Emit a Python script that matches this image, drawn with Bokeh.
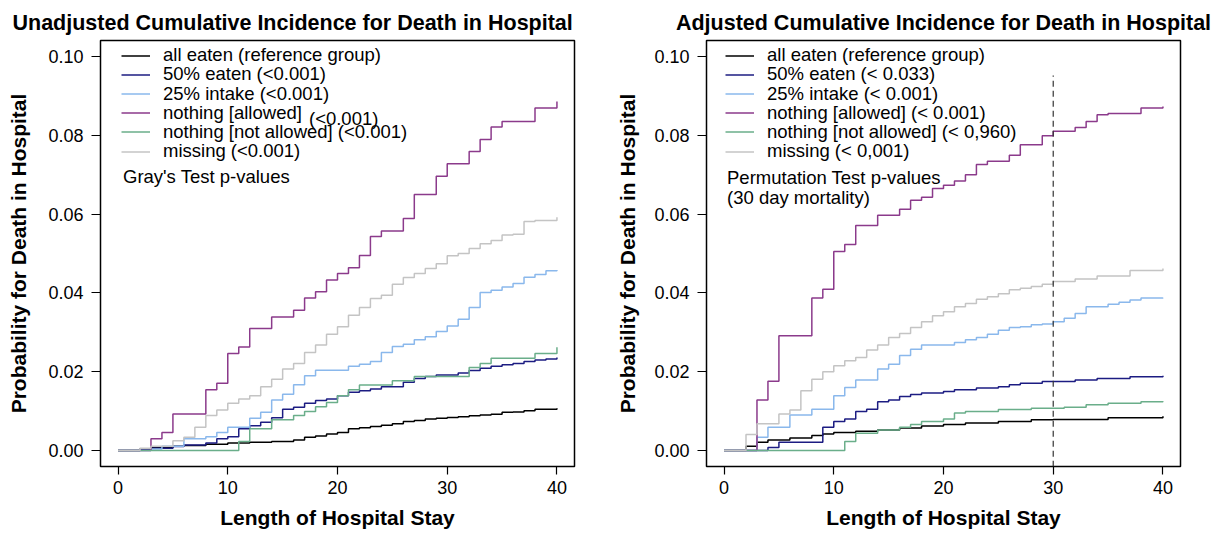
from bokeh.plotting import figure
from bokeh.layouts import row
from bokeh.models import Range1d, FixedTicker, PrintfTickFormatter, Legend, LegendItem, Label
from bokeh.embed import file_html
from bokeh.resources import INLINE

# ---------------- data ----------------
group_names = ["all eaten", "50% eaten", "25% intake", "nothing [allowed]",
               "nothing [not allowed]", "missing"]
group_colors = ["#000000", "#1c1c82", "#8ab8ec", "#8b3a8b", "#6aae8a", "#c4c4c4"]

unadj_labels = ["all eaten (reference group)", "50% eaten (<0.001)", "25% intake (<0.001)",
                "nothing [allowed]", "nothing [not allowed] (<0.001)", "missing (<0.001)"]
unadj_extra = "(<0.001)"
unadj_note = "Gray's Test p-values"
adj_labels = ["all eaten (reference group)", "50% eaten (< 0.033)", "25% intake (< 0.001)",
              "nothing [allowed] (< 0.001)", "nothing [not allowed] (< 0,960)", "missing (< 0,001)"]
adj_note = ["Permutation Test p-values", "(30 day mortality)"]

x_ticks = [0, 10, 20, 30, 40]
y_ticks = [0.00, 0.02, 0.04, 0.06, 0.08, 0.10]
cutoff_day = 30

# Unadjusted cumulative incidence (days, probability)
u_all_x = [0, 2, 3, 5, 6, 8, 10, 12, 14, 16, 17, 18, 19, 20, 21, 22, 23, 24, 25, 26, 27, 28, 29, 30,
           31, 32, 33, 34, 35, 36, 37, 38, 40]
u_all_y = [0, 0.0004, 0.0008, 0.0011, 0.0013, 0.0016, 0.0019, 0.0021, 0.0023, 0.0027, 0.0034, 0.0037,
           0.0042, 0.0046, 0.0055, 0.0058, 0.0061, 0.0064, 0.0068, 0.0074, 0.0076, 0.0080, 0.0082,
           0.0084, 0.0086, 0.0088, 0.0090, 0.0092, 0.0097, 0.0098, 0.0101, 0.0105, 0.0107]

u_50_x = [0, 2, 3, 5, 6, 8, 9, 10, 11, 12, 13, 14, 15, 16, 17, 18, 19, 20, 21, 22, 23, 24, 26, 27, 28,
          29, 31, 32, 33, 34, 35, 36, 37, 38, 39, 40]
u_50_y = [0, 0.0003, 0.0006, 0.0010, 0.0014, 0.0019, 0.0030, 0.0035, 0.0055, 0.0063, 0.0072, 0.0083,
          0.0105, 0.0110, 0.0120, 0.0127, 0.0131, 0.0139, 0.0148, 0.0152, 0.0156, 0.0162, 0.0173,
          0.0183, 0.0188, 0.0192, 0.0197, 0.0203, 0.0209, 0.0214, 0.0218, 0.0221, 0.0226, 0.0230,
          0.0232, 0.0236]

u_25_x = [0, 3, 4, 6, 8, 9, 10, 12, 13, 14, 15, 16, 17, 18, 21, 22, 23, 24, 25, 26, 27, 28, 29, 30,
          31, 32, 33, 34, 35, 36, 37, 38, 39, 40]
u_25_y = [0, 0.0004, 0.0011, 0.0030, 0.0035, 0.0046, 0.0059, 0.0082, 0.0097, 0.0128, 0.0143, 0.0167,
          0.0190, 0.0204, 0.0214, 0.0219, 0.0226, 0.0249, 0.0264, 0.0270, 0.0281, 0.0289, 0.0302,
          0.0316, 0.0333, 0.0363, 0.0401, 0.0407, 0.0415, 0.0424, 0.0440, 0.0447, 0.0456, 0.0458]

u_allowed_x = [0, 3, 4, 5, 8, 9, 10, 11, 12, 14, 16, 17, 18, 19, 20, 21, 22, 23, 24, 26, 27, 29, 30,
               32, 33, 34, 35, 38, 40]
u_allowed_y = [0, 0.0030, 0.0046, 0.0093, 0.0154, 0.0171, 0.0246, 0.0263, 0.0310, 0.0339, 0.0356,
               0.0387, 0.0403, 0.0433, 0.0449, 0.0464, 0.0495, 0.0543, 0.0557, 0.0589, 0.0650,
               0.0696, 0.0728, 0.0759, 0.0789, 0.0821, 0.0835, 0.0869, 0.0886]

u_notallowed_x = [0, 11, 12, 14, 16, 17, 18, 19, 20, 21, 22, 25, 27, 32, 33, 34, 38, 40]
u_notallowed_y = [0, 0.0023, 0.0055, 0.0078, 0.0089, 0.0099, 0.0111, 0.0122, 0.0139, 0.0154, 0.0166,
                  0.0177, 0.0188, 0.0211, 0.0221, 0.0234, 0.0246, 0.0262]

u_missing_x = [0, 2, 3, 5, 6, 7, 8, 9, 10, 11, 12, 13, 14, 15, 16, 17, 18, 19, 20, 21, 22, 23, 24,
               25, 26, 27, 28, 29, 30, 31, 32, 33, 34, 35, 36, 37, 38, 40]
u_missing_y = [0, 0.0006, 0.0011, 0.0025, 0.0034, 0.0059, 0.0089, 0.0103, 0.0120, 0.0131, 0.0139,
               0.0162, 0.0181, 0.0207, 0.0221, 0.0249, 0.0268, 0.0295, 0.0314, 0.0343, 0.0363,
               0.0386, 0.0394, 0.0422, 0.0439, 0.0449, 0.0462, 0.0474, 0.0494, 0.0500, 0.0513,
               0.0525, 0.0533, 0.0547, 0.0549, 0.0581, 0.0584, 0.0592]

# Adjusted cumulative incidence (days, probability)
a_all_x = [0, 2, 3, 4, 6, 8, 9, 10, 12, 14, 16, 18, 20, 22, 25, 28, 30, 35, 40]
a_all_y = [0, 0.0011, 0.0021, 0.0027, 0.0032, 0.0038, 0.0042, 0.0046, 0.0049, 0.0052, 0.0057, 0.0062,
           0.0066, 0.0070, 0.0074, 0.0078, 0.0079, 0.0083, 0.0087]

a_50_x = [0, 4, 5, 9, 10, 11, 12, 13, 14, 15, 16, 17, 18, 20, 21, 23, 25, 26, 27, 29, 32, 34, 37, 40]
a_50_y = [0, 0.0008, 0.0021, 0.0059, 0.0074, 0.0080, 0.0099, 0.0105, 0.0124, 0.0128, 0.0137, 0.0142,
          0.0146, 0.0150, 0.0154, 0.0159, 0.0162, 0.0167, 0.0171, 0.0175, 0.0179, 0.0183, 0.0187,
          0.0190]

a_25_x = [0, 3, 4, 6, 8, 10, 11, 12, 14, 15, 16, 17, 18, 21, 22, 23, 24, 25, 26, 27, 28, 29, 30, 31,
          32, 33, 35, 36, 37, 38, 40]
a_25_y = [0, 0.0034, 0.0059, 0.0090, 0.0105, 0.0139, 0.0160, 0.0179, 0.0207, 0.0219, 0.0241, 0.0257,
          0.0268, 0.0274, 0.0281, 0.0287, 0.0295, 0.0305, 0.0312, 0.0314, 0.0319, 0.0321, 0.0327,
          0.0336, 0.0348, 0.0365, 0.0371, 0.0376, 0.0382, 0.0387, 0.0388]

a_allowed_x = [0, 3, 4, 5, 8, 9, 10, 11, 12, 14, 16, 17, 18, 19, 20, 21, 22, 23, 24, 26, 27, 29, 30,
               32, 33, 34, 35, 38, 40]
a_allowed_y = [0, 0.0128, 0.0176, 0.0291, 0.0387, 0.0409, 0.0505, 0.0523, 0.0571, 0.0597, 0.0612,
               0.0635, 0.0643, 0.0665, 0.0673, 0.0684, 0.0700, 0.0726, 0.0734, 0.0749, 0.0776,
               0.0799, 0.0810, 0.0820, 0.0835, 0.0852, 0.0855, 0.0869, 0.0873]

a_notallowed_x = [0, 11, 12, 14, 16, 17, 18, 20, 21, 22, 25, 28, 31, 33, 35, 38, 40]
a_notallowed_y = [0, 0.0023, 0.0044, 0.0052, 0.0059, 0.0066, 0.0074, 0.0080, 0.0095, 0.0099, 0.0104,
                  0.0107, 0.0110, 0.0116, 0.0120, 0.0124, 0.0125]

a_missing_x = [0, 2, 3, 5, 6, 7, 8, 9, 10, 11, 12, 13, 14, 15, 16, 17, 18, 19, 20, 21, 22, 23, 24, 25,
               26, 27, 28, 29, 30, 32, 34, 37, 40]
a_missing_y = [0, 0.0041, 0.0068, 0.0093, 0.0103, 0.0152, 0.0181, 0.0200, 0.0215, 0.0228, 0.0236,
               0.0255, 0.0268, 0.0287, 0.0297, 0.0312, 0.0327, 0.0342, 0.0352, 0.0365, 0.0373,
               0.0384, 0.0390, 0.0398, 0.0408, 0.0412, 0.0416, 0.0422, 0.0429, 0.0435, 0.0443,
               0.0457, 0.0462]

unadj_series = [(u_all_x, u_all_y), (u_50_x, u_50_y), (u_25_x, u_25_y),
                (u_allowed_x, u_allowed_y), (u_notallowed_x, u_notallowed_y),
                (u_missing_x, u_missing_y)]
adj_series = [(a_all_x, a_all_y), (a_50_x, a_50_y), (a_25_x, a_25_y),
              (a_allowed_x, a_allowed_y), (a_notallowed_x, a_notallowed_y),
              (a_missing_x, a_missing_y)]

FONT = "Liberation Sans"
FRAME_W, FRAME_H = 474, 426
LEG_FS = "18.5px"


def make_panel(title, series, labels, border_left, border_right, legend_x,
               title_align, title_offset, ylab_standoff):
    p = figure(frame_width=FRAME_W, frame_height=FRAME_H,
               min_border_left=border_left, min_border_right=border_right,
               min_border_top=40, min_border_bottom=68,
               x_range=Range1d(-1.6, 41.6), y_range=Range1d(-0.00405, 0.10405),
               output_backend="svg", toolbar_location=None, title=title)
    p.title.text_font = FONT
    p.title.text_font_size = "21.5px"
    p.title.text_font_style = "bold"
    p.title.text_color = "#000000"
    p.title.align = title_align
    p.title.offset = title_offset
    p.title.standoff = 12
    p.xgrid.visible = False
    p.ygrid.visible = False
    p.outline_line_color = "#000000"
    p.outline_line_width = 1.5
    p.background_fill_color = "white"
    p.border_fill_color = "white"

    p.xaxis.ticker = FixedTicker(ticks=x_ticks)
    p.yaxis.ticker = FixedTicker(ticks=y_ticks)
    p.yaxis.formatter = PrintfTickFormatter(format="%.2f")
    for ax in (p.xaxis[0], p.yaxis[0]):
        ax.axis_line_color = None
        ax.major_tick_in = 0
        ax.minor_tick_in = 0
        ax.minor_tick_out = 0
        ax.major_tick_line_color = "#000000"
        ax.major_tick_line_width = 1.2
        ax.major_label_text_font = FONT
        ax.major_label_text_font_size = "18px"
        ax.major_label_text_color = "#000000"
        ax.axis_label_text_font = FONT
        ax.axis_label_text_font_size = "21px"
        ax.axis_label_text_font_style = "bold"
        ax.axis_label_text_color = "#000000"
    p.xaxis.major_tick_out = 8
    p.yaxis.major_tick_out = 9
    p.xaxis.major_label_standoff = 6
    p.yaxis.major_label_standoff = 8
    p.xaxis.axis_label = "Length of Hospital Stay"
    p.yaxis.axis_label = "Probability for Death in Hospital"
    p.xaxis.axis_label_standoff = 9
    p.yaxis.axis_label_standoff = ylab_standoff

    # one small legend per row so that rows sit at the reference's spacing
    row_centres = [15.7 + 19.2 * k for k in range(len(labels))]
    for (xs, ys), col, lab, yc in zip(series, group_colors, labels, row_centres):
        r = p.step(x=xs, y=ys, mode="after", line_color=col, line_width=1.5)
        leg = Legend(items=[LegendItem(label=lab, renderers=[r])],
                     location=(legend_x, FRAME_H - (yc + 10.4)),
                     padding=0, margin=0, spacing=0,
                     glyph_width=29, glyph_height=19, label_height=19, label_standoff=13,
                     label_text_font=FONT, label_text_font_size=LEG_FS,
                     label_text_color="#000000",
                     border_line_color=None, background_fill_alpha=0)
        p.add_layout(leg)
    return p


p1 = make_panel("Unadjusted Cumulative Incidence for Death in Hospital", unadj_series, unadj_labels,
                100, 26, 21, "left", -88, 15)
p1.add_layout(Label(x=17.4, y=0.0842, text=unadj_extra, text_font=FONT, text_font_size=LEG_FS,
                    text_baseline="middle", text_align="left", text_color="#000000"))
p1.add_layout(Label(x=0.45, y=0.0696, text=unadj_note, text_font=FONT, text_font_size=LEG_FS,
                    text_baseline="middle", text_align="left", text_color="#000000"))

p2 = make_panel("Adjusted Cumulative Incidence for Death in Hospital", adj_series, adj_labels,
                106, 36, 19, "center", 0, 12)
p2.segment(x0=[cutoff_day], y0=[-0.0041], x1=[cutoff_day], y1=[0.0952], line_color="#333333",
           line_width=1.2, line_dash="6 4")
p2.add_layout(Label(x=0.27, y=0.0694, text=adj_note[0], text_font=FONT, text_font_size=LEG_FS,
                    text_baseline="middle", text_align="left", text_color="#000000"))
p2.add_layout(Label(x=0.27, y=0.0641, text=adj_note[1], text_font=FONT, text_font_size=LEG_FS,
                    text_baseline="middle", text_align="left", text_color="#000000"))

layout = row(p1, p2)
open("out.html", "w").write(file_html(layout, INLINE))
